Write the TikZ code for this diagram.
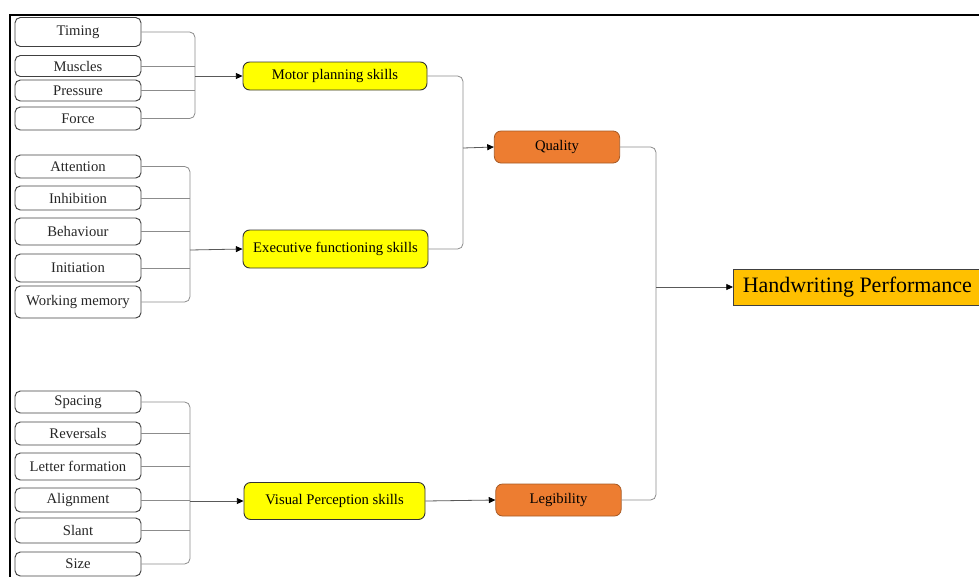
\documentclass[tikz,border=0pt]{standalone}
\usepackage{fontspec}
\setmainfont{Liberation Serif}
\usetikzlibrary{arrows.meta}

\definecolor{hwyellow}{HTML}{FFFF00}
\definecolor{hworange}{HTML}{ED7D31}
\definecolor{hworangedark}{HTML}{A65A25}
\definecolor{hwgold}{HTML}{FFC000}
\definecolor{hwline}{HTML}{8C8C8C}

\begin{document}
\begin{tikzpicture}[
  x=0.75pt, y=-0.75pt,
  font=\fontsize{11}{13}\selectfont,
  item/.style={rectangle, rounded corners=4pt, draw=black!75, line width=0.7pt,
               minimum width=94.5pt, inner sep=0pt, text=black!85},
  skill/.style={rectangle, rounded corners=5pt, draw=black!80, line width=0.7pt,
                fill=hwyellow, inner sep=0pt},
  aspect/.style={rectangle, rounded corners=5pt, draw=hworangedark, line width=0.6pt,
                 fill=hworange, minimum width=94pt, minimum height=24pt, inner sep=0pt},
  goal/.style={rectangle, draw=black!75, line width=0.7pt, fill=hwgold, anchor=west,
               inner xsep=7pt, minimum height=27pt, font=\fontsize{16.5}{19}\selectfont},
  link/.style={draw=hwline, line width=0.6pt, rounded corners=4pt},
  arr/.style={draw=black!65, line width=0.6pt,
              -{Triangle[length=5pt,width=4.5pt,color=black]}}]

  \useasboundingbox (0,0) rectangle (979,576);

  % ---- frame ------------------------------------------------------------
  \draw[black, line width=2.2pt] (10,577) -- (10,15) -- (980,15);

  % ---- motor planning inputs ---------------------------------------------
  \node[item, minimum height=21.75pt] (timing)   at (78,32)  {Timing};
  \node[item, minimum height=15.75pt] (muscles)  at (78,66)  {Muscles};
  \node[item, minimum height=15.75pt] (pressure) at (78,90.5) {Pressure};
  \node[item, minimum height=17.25pt] (force)    at (78,118.5) {Force};

  % ---- executive inputs --------------------------------------------------
  \node[item, minimum height=17.25pt] (attention)  at (78,166.5) {Attention};
  \node[item, minimum height=18pt]    (inhibition) at (78,198)   {Inhibition};
  \node[item, minimum height=20.25pt] (behaviour)  at (78,231.5) {Behaviour};
  \node[item, minimum height=21pt]    (initiation) at (78,268)   {Initiation};
  \node[item, minimum height=24pt]    (workmem)    at (78,302)   {Working memory};

  % ---- visual perception inputs ------------------------------------------
  \node[item, minimum height=16.5pt]  (spacing)   at (78,402)   {Spacing};
  \node[item, minimum height=17.25pt] (reversals) at (78,433.5) {Reversals};
  \node[item, minimum height=20.25pt] (letters)   at (78,466.5) {Letter formation};
  \node[item, minimum height=18pt]    (alignment) at (78,500)   {Alignment};
  \node[item, minimum height=18.75pt] (slant)     at (78,530.5) {Slant};
  \node[item, minimum height=18pt]    (size)      at (78,564)   {Size};

  % ---- skills ------------------------------------------------------------
  \node[skill, minimum width=138pt, minimum height=21pt]      (motor)  at (335,76)    {Motor planning skills};
  \node[skill, minimum width=138.75pt, minimum height=28.5pt] (exec)   at (335.5,249) {Executive functioning skills};
  \node[skill, minimum width=135.75pt, minimum height=27.75pt] (visual) at (334.5,501) {Visual Perception skills};

  \node[aspect] (quality) at (557,147)   {Quality};
  \node[aspect] (legible) at (558.5,500) {Legibility};

  \node[goal] (perf) at (733,287) {Handwriting Performance};

  % ---- junctions ---------------------------------------------------------
  \coordinate (j1) at (195,76);
  \coordinate (j2) at (190,250);
  \coordinate (j3) at (190,501);
  \coordinate (j4) at (463,148);
  \coordinate (j5) at (656,287);

  % ---- brackets ----------------------------------------------------------
  \draw[link] (timing.east) -| (j1) |- (force.east);
  \foreach \n in {muscles, pressure} { \draw[link] (\n.east) -- (\n.east -| j1); }

  \draw[link] (attention.east) -| (j2) |- (workmem.east);
  \foreach \n in {inhibition, behaviour, initiation} { \draw[link] (\n.east) -- (\n.east -| j2); }

  \draw[link] (spacing.east) -| (j3) |- (size.east);
  \foreach \n in {reversals, letters, alignment, slant} { \draw[link] (\n.east) -- (\n.east -| j3); }

  \draw[link] (motor.east) -| (j4) |- (exec.east);
  \draw[link] (quality.east) -| (j5) |- (legible.east);

  % ---- arrows ------------------------------------------------------------
  \draw[arr] (j1) -- (motor.west);
  \draw[arr] (j2) -- (exec.west);
  \draw[arr] (j3) -- (visual.west);
  \draw[arr] (j4) -- (quality.west);
  \draw[arr] (visual.east) -- (legible.west);
  \draw[arr] (j5) -- (perf.west);
\end{tikzpicture}
\end{document}
